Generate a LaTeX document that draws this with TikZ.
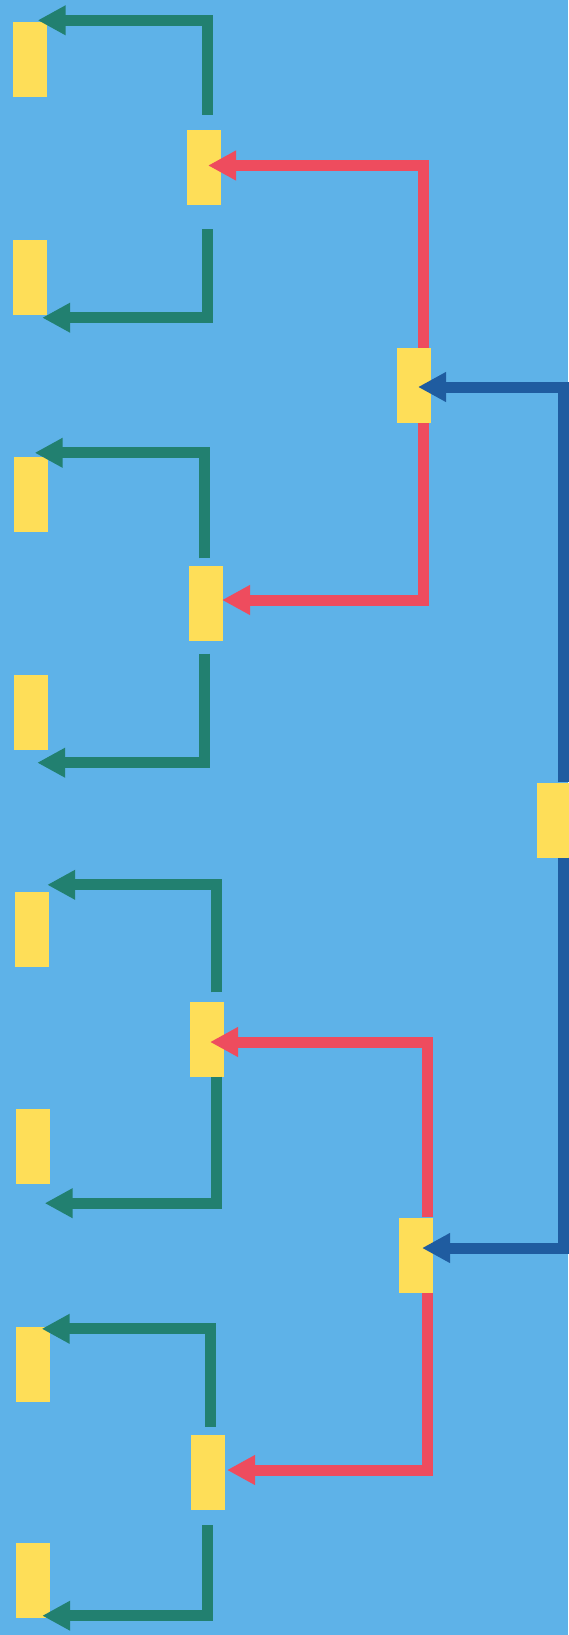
\documentclass[tikz,border=0pt]{standalone}
\usepackage{tikz}
\usetikzlibrary{arrows.meta}
\usepackage{xcolor}
\definecolor{sky}{RGB}{94,178,232}
\definecolor{tabyellow}{RGB}{254,222,88}
\definecolor{leafgreen}{RGB}{34,128,112}
\definecolor{midred}{RGB}{238,76,94}
\definecolor{rootblue}{RGB}{31,92,160}

\begin{document}
\begin{tikzpicture}[x=1pt,y=-1pt,
  >={Triangle[length=28pt,width=28pt]},
  tab/.style={rectangle,fill=tabyellow,minimum width=34pt,minimum height=75pt,inner sep=0pt},
  leafline/.style={->,leafgreen,line width=11pt},
  midline/.style={->,midred,line width=11pt},
  rootline/.style={->,rootblue,line width=11pt}]
\useasboundingbox (0,0) rectangle (568,1635);
\fill[sky] (0,0) rectangle (568,1635);
% leaves
\node[tab] (l1) at (29.5,60) {};
\node[tab] (l2) at (30,277) {};
\node[tab] (l3) at (30.5,494.5) {};
\node[tab] (l4) at (31,712) {};
\node[tab] (l5) at (32,929.5) {};
\node[tab] (l6) at (32.5,1146.5) {};
\node[tab] (l7) at (32.5,1364.5) {};
\node[tab] (l8) at (33,1580) {};
% second column
\node[tab] (m1) at (204,167.5) {};
\node[tab] (m2) at (206,603) {};
\node[tab] (m3) at (206.5,1039) {};
\node[tab] (m4) at (207.5,1472.5) {};
% third column and root
\node[tab] (u1) at (414,385.5) {};
\node[tab] (u2) at (415.5,1255) {};
\node[tab] (r) at (554,820) {};
% green
\draw[leafline] ([xshift=3pt,yshift=15pt]m1.north) |- ([xshift=-9pt,yshift=2pt]l1.north east);
\draw[leafline] ([xshift=3pt,yshift=-24pt]m1.south) |- ([xshift=-5pt,yshift=-3pt]l2.south east);
\draw[leafline] ([xshift=-2pt,yshift=7pt]m2.north) |- ([xshift=-13pt,yshift=4pt]l3.north east);
\draw[leafline] ([xshift=-2pt,yshift=-13pt]m2.south) |- ([xshift=-11pt,yshift=-13pt]l4.south east);
\draw[leafline] ([xshift=9.5pt,yshift=9pt]m3.north) |- ([xshift=-2pt,yshift=7pt]l5.north east);
\draw[leafline] ([xshift=9.5pt]m3.south) |- ([xshift=-5pt,yshift=-19pt]l6.south east);
\draw[leafline] ([xshift=2.5pt,yshift=8pt]m4.north) |- ([xshift=-8pt,yshift=-2pt]l7.north east);
\draw[leafline] ([xshift=-0.5pt,yshift=-15pt]m4.south) |- ([xshift=-8pt,yshift=2pt]l8.south east);
% red
\draw[midline] ([xshift=9pt]u1.north) |- ([xshift=4pt,yshift=2pt]m1.center);
\draw[midline] ([xshift=9pt]u1.south) |- ([xshift=16pt,yshift=3pt]m2.center);
\draw[midline] ([xshift=11.5pt]u2.north) |- ([xshift=3.5pt,yshift=-3pt]m3.center);
\draw[midline] ([xshift=11.5pt]u2.south) |- ([xshift=19.5pt,yshift=2.5pt]m4.center);
% blue
\draw[rootline] ([xshift=9pt]r.north) |- ([xshift=4pt,yshift=-1.5pt]u1.center);
\draw[rootline] ([xshift=9pt]r.south) |- ([xshift=6.5pt,yshift=7pt]u2.center);
\end{tikzpicture}
\end{document}
